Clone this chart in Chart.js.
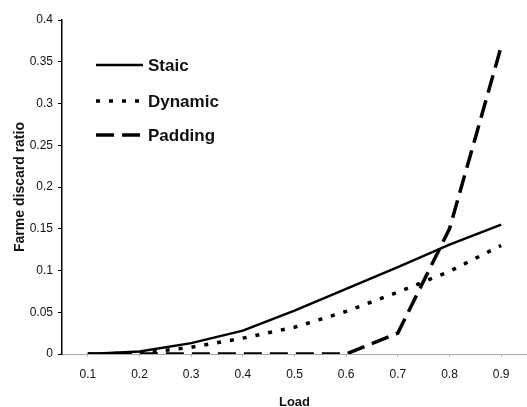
<!DOCTYPE html>
<html>
<head>
<meta charset="utf-8">
<script src="https://cdn.jsdelivr.net/npm/chart.js@4/dist/chart.umd.min.js"></script>
<style>
  html, body { margin: 0; padding: 0; background: #fff; }
  #wrap { width: 527px; height: 407px; }
</style>
</head>
<body>
<div id="wrap"><canvas id="c" width="527" height="407"></canvas></div>
<script>
const categories = ['0.1', '0.2', '0.3', '0.4', '0.5', '0.6', '0.7', '0.8', '0.9'];
const staic   = [0, 0.003, 0.013, 0.028, 0.052, 0.078, 0.104, 0.131, 0.155];
const dynamic = [0, 0.001, 0.008, 0.019, 0.032, 0.051, 0.074, 0.099, 0.130];
const padding = [0, 0, 0, 0, 0, 0, 0.025, 0.150, 0.368];
const yTickLabels = ['0', '0.05', '0.1', '0.15', '0.2', '0.25', '0.3', '0.35', '0.4'];
const seriesNames = ['Staic', 'Dynamic', 'Padding'];
const xTitle = 'Load';
const yTitle = 'Farme discard ratio';

const legendPlugin = {
  id: 'insideLegend',
  afterDraw(chart) {
    const ctx = chart.ctx;
    const rows = [65, 101, 135];
    ctx.save();
    chart.data.datasets.forEach((ds, i) => {
      const y = rows[i];
      ctx.beginPath();
      ctx.setLineDash(ds.borderDash || []);
      ctx.lineWidth = ds.borderWidth;
      ctx.strokeStyle = ds.borderColor;
      ctx.moveTo(96, y);
      ctx.lineTo(143, y);
      ctx.stroke();
      ctx.setLineDash([]);
      ctx.fillStyle = '#111';
      ctx.font = 'bold 17px "Liberation Sans", Arial, sans-serif';
      ctx.textBaseline = 'middle';
      ctx.textAlign = 'left';
      ctx.fillText(ds.label, 148, y + 1);
    });
    ctx.restore();
  }
};

new Chart(document.getElementById('c'), {
  type: 'line',
  data: {
    labels: categories,
    datasets: [
      { label: seriesNames[0], data: staic, borderColor: '#000', borderWidth: 2.5, borderDash: [], pointRadius: 0, tension: 0, fill: false },
      { label: seriesNames[1], data: dynamic, borderColor: '#000', borderWidth: 3.5, borderDash: [4, 9], pointRadius: 0, tension: 0, fill: false },
      { label: seriesNames[2], data: padding, borderColor: '#000', borderWidth: 3.5, borderDash: [18, 8], pointRadius: 0, tension: 0, fill: false }
    ]
  },
  options: {
    responsive: false,
    animation: false,
    devicePixelRatio: 1,
    layout: { padding: { top: 20, right: 0, bottom: 0, left: 0 } },
    plugins: { legend: { display: false }, tooltip: { enabled: false } },
    scales: {
      x: {
        type: 'category',
        offset: true,
        grid: { display: true, drawOnChartArea: false, tickLength: 3, color: '#bbb' },
        border: { display: true, color: '#aaa', width: 1, dash: [3, 3] },
        ticks: { color: '#111', font: { family: '"Liberation Sans", Arial, sans-serif', size: 12 }, padding: 10, maxRotation: 0 },
        title: { display: true, text: xTitle, color: '#111', font: { family: '"Liberation Sans", Arial, sans-serif', size: 13, weight: 'bold' }, padding: { top: 8, bottom: -3 } },
        afterFit(scale) { scale.height = 53; }
      },
      y: {
        min: 0, max: 0.4,
        grid: { display: true, drawOnChartArea: false, tickLength: 4, color: '#000' },
        border: { display: true, color: '#000', width: 1.5 },
        ticks: {
          stepSize: 0.05, color: '#111', padding: 5,
          font: { family: '"Liberation Sans", Arial, sans-serif', size: 12 },
          callback: (v, i) => yTickLabels[i]
        },
        title: { display: true, text: yTitle, color: '#111', font: { family: '"Liberation Sans", Arial, sans-serif', size: 14, weight: 'bold' }, padding: { top: 12, bottom: 0 } },
        afterFit(scale) { scale.width = 62; }
      }
    }
  },
  plugins: [legendPlugin]
});
</script>
</body>
</html>
